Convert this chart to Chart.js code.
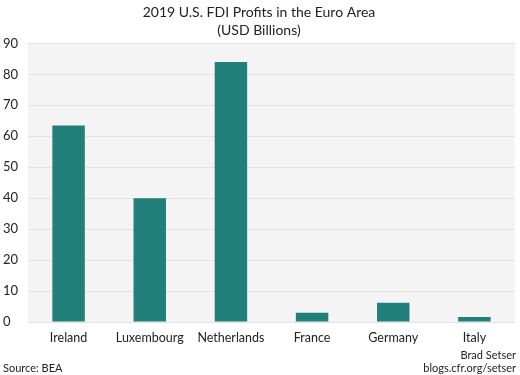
<!DOCTYPE html>
<html>
<head>
<meta charset="utf-8">
<script src="https://cdn.jsdelivr.net/npm/chart.js@4/dist/chart.umd.min.js"></script>
<style>
  html, body { margin: 0; padding: 0; background: #fff; }
  #wrap { width: 520px; height: 375px; position: relative; }
</style>
</head>
<body>
<div id="wrap"><canvas id="fdi"></canvas></div>
<script>
const countries = ["Ireland", "Luxembourg", "Netherlands", "France", "Germany", "Italy"];
const profits = [63.5, 40, 84, 3, 6.2, 1.6];
const yTicks = [0, 10, 20, 30, 40, 50, 60, 70, 80, 90];

const fontFamily = "Lato, 'Noto Sans', sans-serif";

// grey panel behind the bars + source / credit lines
const panel = {
  id: "panel",
  beforeDraw(chart) {
    const { ctx, chartArea: a } = chart;
    ctx.save();
    ctx.fillStyle = "#f4f4f4";
    ctx.fillRect(a.left, a.top, a.right - a.left, a.bottom - a.top);
    ctx.restore();
  },
  afterDraw(chart) {
    const ctx = chart.ctx;
    ctx.save();
    ctx.fillStyle = "#222";
    ctx.font = "11px " + fontFamily;
    ctx.textBaseline = "middle";
    ctx.textAlign = "left";
    ctx.fillText("Source: BEA", 3, 368);
    ctx.textAlign = "right";
    ctx.fillText("Brad Setser", 516, 355);
    ctx.fillText("blogs.cfr.org/setser", 516, 368);
    ctx.restore();
  },
};

new Chart(document.getElementById("fdi"), {
  type: "bar",
  data: {
    labels: countries,
    datasets: [
      {
        label: "Profits",
        data: profits,
        backgroundColor: "#22807a",
        categoryPercentage: 1,
        barPercentage: 0.4,
      },
    ],
  },
  options: {
    responsive: true,
    maintainAspectRatio: false,
    animation: false,
    layout: { padding: { left: 3, right: 5, top: 0, bottom: 22 } },
    plugins: {
      legend: { display: false },
      tooltip: { enabled: false },
      title: {
        display: true,
        text: ["2019 U.S. FDI Profits in the Euro Area", "(USD Billions)"],
        color: "#222",
        font: { family: fontFamily, size: 14, weight: "normal", lineHeight: 1.3 },
        padding: { top: 3, bottom: 4 },
      },
    },
    scales: {
      x: {
        grid: { display: false, drawTicks: false },
        border: { display: false },
        ticks: { color: "#222", font: { family: fontFamily, size: 12.5 }, padding: 8 },
      },
      y: {
        min: 0,
        max: 90,
        afterBuildTicks(axis) {
          axis.ticks = yTicks.map((v) => ({ value: v }));
        },
        afterFit(axis) {
          axis.width = 25;
        },
        grid: { color: "#e2e2e2", drawTicks: false },
        border: { display: false },
        ticks: {
          color: "#222",
          font: { family: fontFamily, size: 13 },
          crossAlign: "far",
          padding: 10,
        },
      },
    },
  },
  plugins: [panel],
});
</script>
</body>
</html>
